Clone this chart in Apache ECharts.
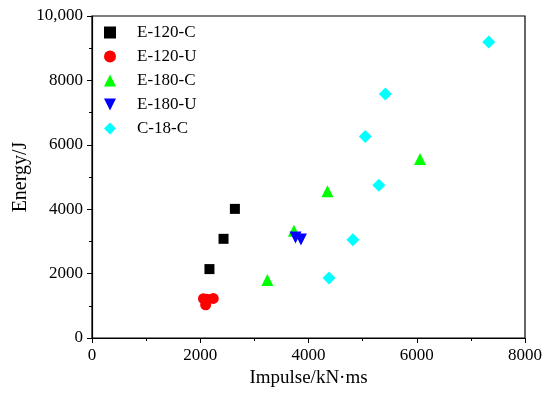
<!DOCTYPE html>
<html><head><meta charset="utf-8">
<script src="https://cdn.jsdelivr.net/npm/echarts@6/dist/echarts.min.js"></script>
<style>html,body{margin:0;padding:0;background:#fff}#c{width:550px;height:395px}</style>
</head><body><div id="c"></div>
<script>
const seriesNames = ['E-120-C','E-120-U','E-180-C','E-180-U','C-18-C'];
const e120C = [[2170,2140],[2430,3080],[2640,4010]];
const e120U = [[2060,1220],[2100,1030],[2130,1200],[2240,1230]];
const e180C = [[3240,1800],[3730,3330],[4350,4560],[6060,5560]];
const e180U = [[3760,3120],[3860,3060]];
const c18C = [[4380,1860],[4820,3050],[5050,6260],[5300,4740],[5420,7580],[7330,9190]];
const xTicks = [0,2000,4000,6000,8000];
const yTicks = [0,2000,4000,6000,8000,10000];

const font = 'Liberation Serif';
const colors = ['#000000','#ff0000','#00ff00','#0000ff','#00ffff'];
const symbols = ['rect','circle','triangle','path://M0,0 L2,0 L1,2 Z','diamond'];
const sizes = [10,11,12,12,13];
const datas = [e120C,e120U,e180C,e180U,c18C];

const chart = echarts.init(document.getElementById('c'));
chart.setOption({
  animation:false,
  backgroundColor:'#fff',
  grid:{left:92,right:25,top:16,bottom:57,show:true,borderColor:'#000',borderWidth:1.2,
    containLabel:false,outerBoundsMode:'none'},
  legend:{
    orient:'vertical',left:99,top:19,itemWidth:12,itemHeight:12,itemGap:7,
    textStyle:{fontFamily:font,fontSize:17,color:'#000',padding:[0,0,0,16]},
    data:seriesNames.map((n,i)=>({name:n,icon:symbols[i]}))
  },
  xAxis:{
    type:'value',min:xTicks[0],max:xTicks[xTicks.length-1],interval:2000,
    name:'Impulse/kN·ms',nameLocation:'middle',nameGap:31,nameMoveOverlap:false,
    nameTextStyle:{fontFamily:font,fontSize:19,color:'#000'},
    axisLine:{lineStyle:{color:'#000',width:1.2}},
    axisTick:{show:true,length:5,lineStyle:{color:'#000'}},
    minorTick:{show:true,splitNumber:2,length:3,lineStyle:{color:'#000'}},
    splitLine:{show:false},
    axisLabel:{fontFamily:font,fontSize:17,color:'#000',margin:9,formatter:v=>String(v)}
  },
  yAxis:{
    type:'value',min:yTicks[0],max:yTicks[yTicks.length-1],interval:2000,
    name:'Energy/J',nameLocation:'middle',nameGap:61,nameMoveOverlap:false,
    nameTextStyle:{fontFamily:font,fontSize:20,color:'#000'},
    axisLine:{lineStyle:{color:'#000',width:1.2}},
    axisTick:{show:true,length:5,lineStyle:{color:'#000'}},
    minorTick:{show:true,splitNumber:2,length:3,lineStyle:{color:'#000'}},
    splitLine:{show:false},
    axisLabel:{fontFamily:font,fontSize:17,color:'#000',margin:9,
      formatter:v=>v===10000?'10,000':String(v)}
  },
  series:seriesNames.map((n,i)=>({
    name:n,type:'scatter',data:datas[i],symbol:symbols[i],symbolSize:sizes[i],
    itemStyle:{color:colors[i],opacity:1}
  }))
});
</script></body></html>
